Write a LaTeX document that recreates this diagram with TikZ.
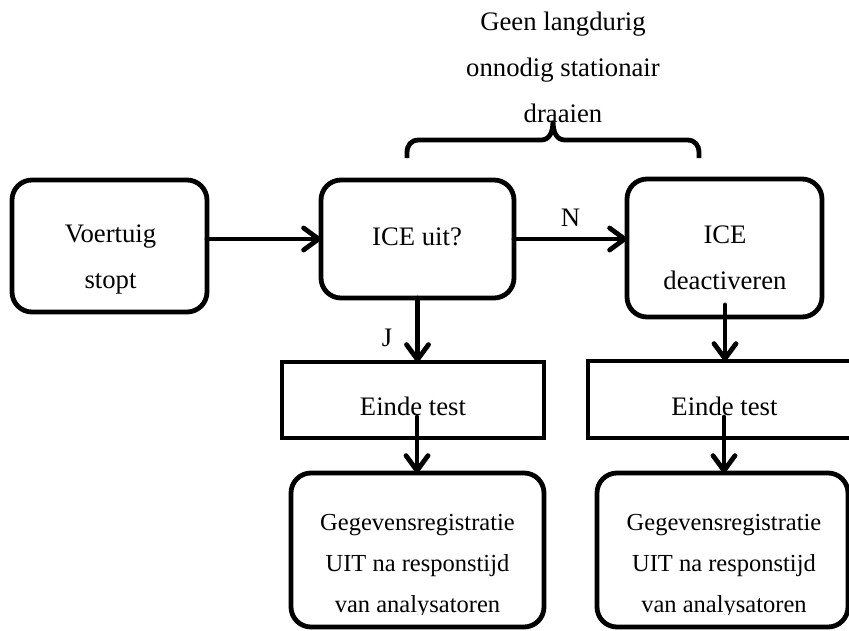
\documentclass[tikz,border=0pt]{standalone}
\usepackage{fontspec}
\setmainfont{Liberation Serif}
\usetikzlibrary{arrows.meta}
\newcommand\tstrut{\rule{0pt}{32.2pt}}
\newcommand\sstrut{\rule{0pt}{28.7pt}}
\begin{document}
\begin{tikzpicture}[x=1pt,y=-1pt,
  rbox/.style={draw, line width=4.8pt, rounded corners=20pt, inner sep=0pt, outer sep=0pt},
  sbox/.style={draw, line width=4.8pt, inner sep=0pt, outer sep=0pt},
  txt/.style={inner sep=0pt, outer sep=0pt, align=center, anchor=north,
    font=\fontsize{26.7}{46}\selectfont},
  stxt/.style={inner sep=0pt, outer sep=0pt, align=center, anchor=north,
    font=\fontsize{24.5}{41}\selectfont},
  lbl/.style={inner sep=0pt, font=\fontsize{26.7}{32}\selectfont},
  conn/.style={line width=4.8pt, line cap=round,
    -{Straight Barb[length=15pt, width=22pt, round]}},
  brace/.style={line width=4.8pt, line cap=butt}
]
\useasboundingbox (0,0) rectangle (849,630);
\clip (0,0) rectangle (849,630);

% boxes
\node[rbox, minimum width=195pt, minimum height=132pt] (v) at (109.5,246) {};
\node[rbox, minimum width=193pt, minimum height=118pt] (q) at (417.5,239) {};
\node[rbox, minimum width=195pt, minimum height=138pt] (d) at (724.5,248) {};
\node[sbox, minimum width=262pt, minimum height=76pt] (e1) at (413,400) {};
\node[sbox, minimum width=273pt, minimum height=77pt] (e2) at (724.5,399.5) {};
\node[rbox, minimum width=253pt, minimum height=154pt] (g1) at (417.5,550) {};
\node[rbox, minimum width=251pt, minimum height=154pt] (g2) at (722.5,550) {};

% texts
\node[txt] (tv) at (110.5,209.8) {\tstrut Voertuig\\stopt};
\node[txt] (tq) at (417,212.8) {\tstrut ICE uit?};
\node[txt] (td) at (725,211.3) {\tstrut ICE\\deactiveren};
\node[txt] (te1) at (413,382.8) {\tstrut Einde test};
\node[txt] (te2) at (724.5,382.8) {\tstrut Einde test};
\node[txt] (ttop) at (563,-2.2) {\tstrut Geen langdurig\\onnodig stationair\\draaien};
\begin{scope}
\clip (0,0) rectangle (849,614.5);
\node[stxt] (tg1) at (417.5,501.8) {\sstrut Gegevensregistratie\\UIT na responstijd\\van analysatoren};
\node[stxt] (tg2) at (724,501.8) {\sstrut Gegevensregistratie\\UIT na responstijd\\van analysatoren};
\end{scope}

% brace
\draw[brace] (407,158) -- (407,153) .. controls (407,145) and (411,140) .. (419,140)
  -- (541,140) .. controls (549,140) and (553,133) .. (553,121)
  .. controls (553,133) and (557,140) .. (565,140)
  -- (687,140) .. controls (695,140) and (699,145) .. (699,153) -- (699,158);

% connector start points inside boxes
\coordinate (ds) at (725,305);
\coordinate (e1s) at (417,417);
\coordinate (e2s) at (724,417);

% connectors
\draw[conn] (v.east |- q.west) -- (q.west);
\draw[conn] (q.east) -- (q.east -| d.west) node[midway, above=10pt, lbl] (n) {N};
\draw[conn] (q.south) -- (q.south |- e1.north);
\node[lbl] (j) at (387,338) {J};
\draw[conn] (ds) -- (ds |- e2.north);
\draw[conn] (e1s) -- (e1s |- g1.north);
\draw[conn] (e2s) -- (e2s |- g2.north);
\end{tikzpicture}
\end{document}
